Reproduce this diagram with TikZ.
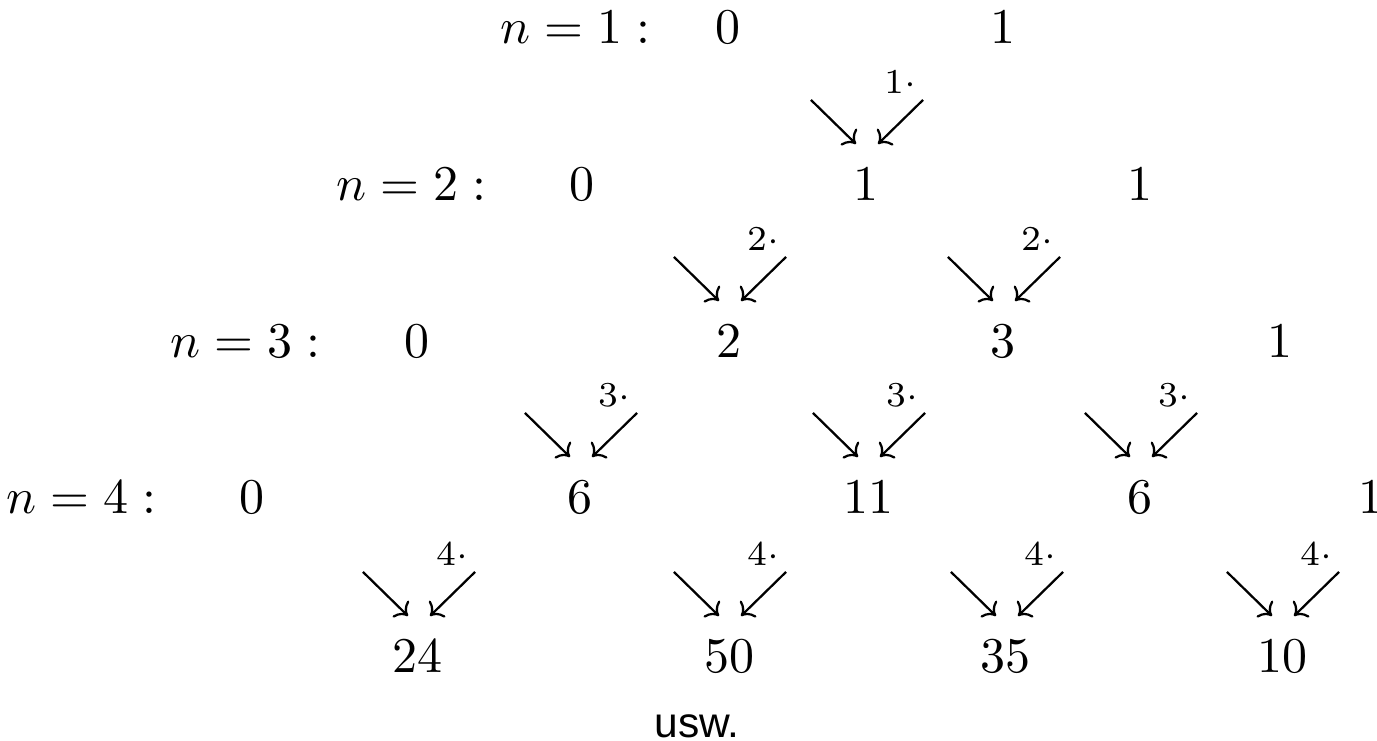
\documentclass[tikz,border=0pt]{standalone}
\usepackage{fontspec}
\newfontfamily\uswfont{Liberation Sans}
\usetikzlibrary{calc,arrows.meta}
\newcommand\arrpair[2]{%
  \draw[arr] ($(#1.base)+(-55,-101)$) -- ($(#1.base)+(-10,-57)$);
  \draw[arr] ($(#1.base)+(57,-101)$) -- ($(#1.base)+(12,-57)$);
  \node[mult] at ($(#1.base)+(34,-119)$) {$\scriptstyle #2\cdot$};
}
\begin{document}
\begin{tikzpicture}[x=0.2pt,y=-0.2pt,
  num/.style={anchor=base,inner sep=0pt},
  rowlab/.style={anchor=base east,inner sep=0pt},
  mult/.style={inner sep=0pt,anchor=center},
  arr/.style={-{Computer Modern Rightarrow[length=2.2pt,width=4.6pt]},line width=0.45pt}]
\useasboundingbox (0,0) rectangle (1377,741);
% row labels
\node[rowlab] (l1) at (651,44) {$n=1:$};
\node[rowlab] (l2) at (487,201) {$n=2:$};
\node[rowlab] (l3) at (321,358) {$n=3:$};
\node[rowlab] (l4) at (157,514) {$n=4:$};
% row 1
\node[num] (a0) at (728,44) {$0$};
\node[num] (a1) at (1003,44) {$1$};
% row 2
\node[num] (b0) at (582,201) {$0$};
\node[num] (b1) at (866,201) {$1$};
\node[num] (b2) at (1140,201) {$1$};
% row 3
\node[num] (c0) at (417,358) {$0$};
\node[num] (c1) at (729,358) {$2$};
\node[num] (c2) at (1003,358) {$3$};
\node[num] (c3) at (1280,358) {$1$};
% row 4
\node[num] (d0) at (252,514) {$0$};
\node[num] (d1) at (580,514) {$6$};
\node[num] (d2) at (868,514) {$11$};
\node[num] (d3) at (1140,514) {$6$};
\node[num] (d4) at (1371,514) {$1$};
% row 5
\node[num] (e1) at (418,673) {$24$};
\node[num] (e2) at (729,673) {$50$};
\node[num] (e3) at (1006,673) {$35$};
\node[num] (e4) at (1282,673) {$10$};
% usw
\node[num,font=\uswfont\fontsize{8.5}{10}\selectfont] (usw) at (697,738) {usw.};
% arrows
\arrpair{b1}{1}
\arrpair{c1}{2}
\arrpair{c2}{2}
\arrpair{d1}{3}
\arrpair{d2}{3}
\arrpair{d3}{3}
\arrpair{e1}{4}
\arrpair{e2}{4}
\arrpair{e3}{4}
\arrpair{e4}{4}
\end{tikzpicture}
\end{document}
